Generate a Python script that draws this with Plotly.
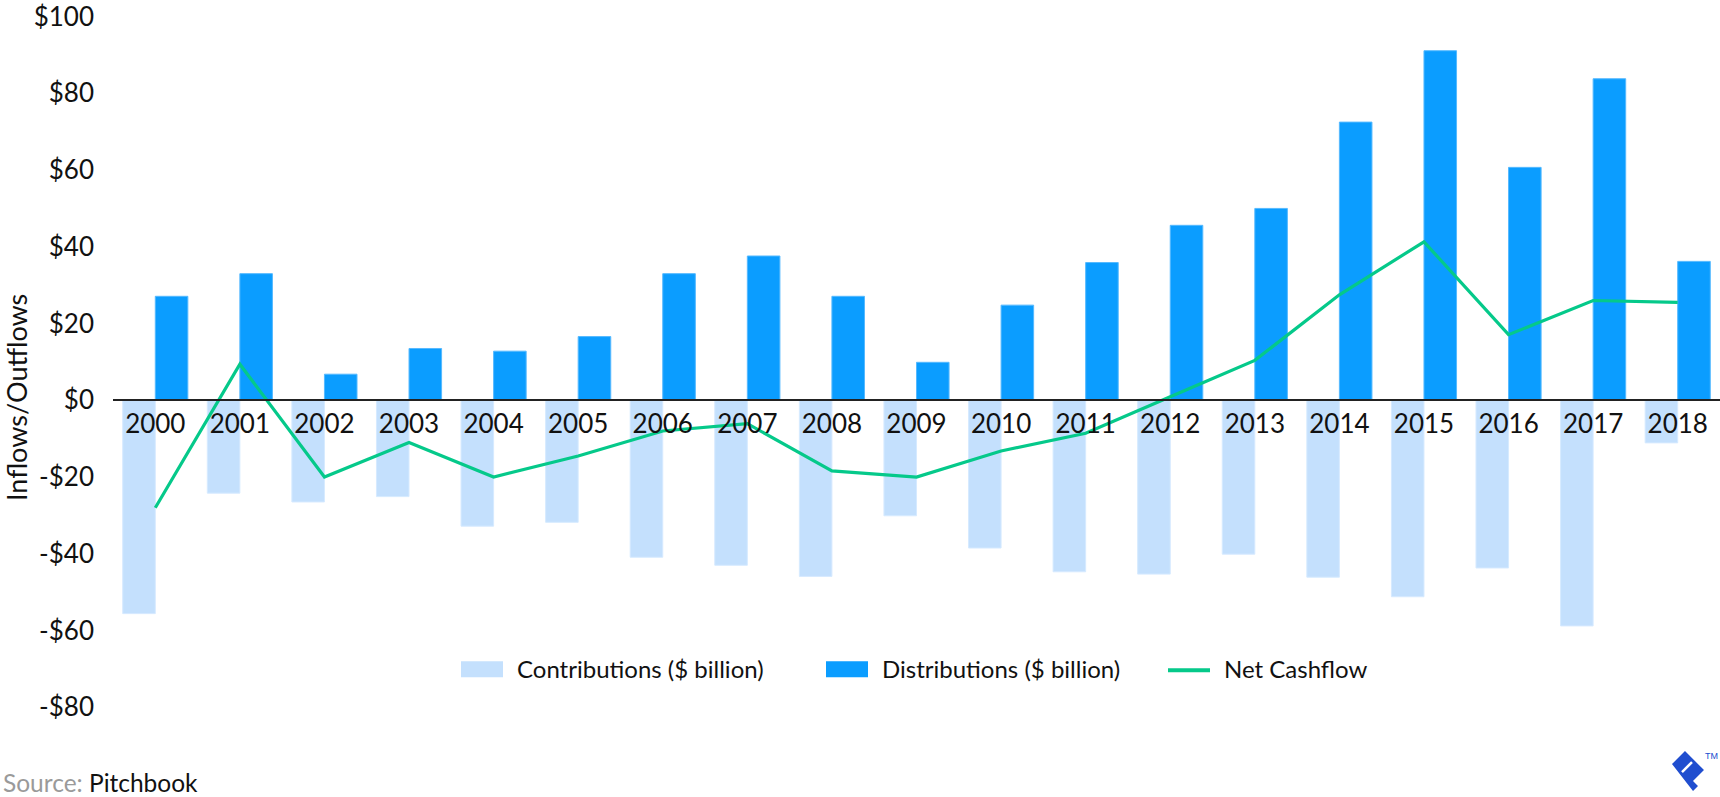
import plotly.graph_objects as go

# ---------------- data ----------------
years = ["2000", "2001", "2002", "2003", "2004", "2005", "2006", "2007", "2008", "2009",
         "2010", "2011", "2012", "2013", "2014", "2015", "2016", "2017", "2018"]
contributions = [-55.6, -24.2, -26.5, -25.1, -32.8, -31.8, -40.9, -43.0, -45.9, -30.1,
                 -38.5, -44.7, -45.3, -40.1, -46.1, -51.2, -43.7, -58.8, -11.1]
distributions = [27.1, 33.0, 6.8, 13.5, 12.8, 16.6, 33.0, 37.6, 27.1, 9.9,
                 24.8, 35.9, 45.6, 50.0, 72.5, 91.1, 60.7, 83.8, 36.2]
net_cashflow = [-28.0, 9.4, -20.0, -11.0, -20.0, -14.5, -8.0, -6.1, -18.4, -20.0,
                -13.2, -8.6, 0.9, 10.4, 27.5, 41.3, 17.1, 26.0, 25.5]
y_ticks = [-80, -60, -40, -20, 0, 20, 40, 60, 80, 100]
y_tick_text = [("-$" if v < 0 else "$") + str(abs(v)) for v in y_ticks]

series_names = ["Contributions ($ billion)", "Distributions ($ billion)", "Net Cashflow"]
C_CONTRIB = "#c4e0fd"
C_DISTRIB = "#0b9dff"
C_NET = "#05c98a"
FONT = "Lato"

# ---------------- layout geometry (pixels) ----------------
W, H = 1720, 797
ML, MR, MT, MB = 113, 0, 14, 13
PW = W - ML - MR
PH = H - MT - MB


def fx(p):
    return (p - ML) / PW


def fy(p):
    return (H - MB - p) / PH


fig = go.Figure()
fig.add_trace(go.Bar(x=years, y=contributions, name=series_names[0],
                     marker=dict(color=C_CONTRIB, line=dict(color="#d6eaff", width=1)),
                     showlegend=False))
fig.add_trace(go.Bar(x=years, y=distributions, name=series_names[1],
                     marker=dict(color=C_DISTRIB, line=dict(color="#55b9ff", width=1)),
                     showlegend=False))
fig.add_trace(go.Scatter(x=years, y=net_cashflow, name=series_names[2], mode="lines",
                         line=dict(color=C_NET, width=3.2), showlegend=False))

shapes = []
annotations = []

# custom legend
legend_left = [461, 826, 1168]
legend_kind = ["rect", "rect", "line"]
legend_color = [C_CONTRIB, C_DISTRIB, C_NET]
ly = 669
for name, left, kind, col in zip(series_names, legend_left, legend_kind, legend_color):
    if kind == "rect":
        shapes.append(dict(type="rect", xref="paper", yref="paper",
                           x0=fx(left), x1=fx(left + 42), y0=fy(ly + 8), y1=fy(ly - 8),
                           fillcolor=col, line=dict(width=0)))
    else:
        shapes.append(dict(type="line", xref="paper", yref="paper",
                           x0=fx(left), x1=fx(left + 42), y0=fy(ly + 1), y1=fy(ly + 1),
                           line=dict(color=col, width=4)))
    annotations.append(dict(text=name, xref="paper", yref="paper",
                            x=fx(left + 54), y=fy(ly - 1), xanchor="left", yanchor="middle",
                            showarrow=False, font=dict(family=FONT, size=24, color="#111")))

# y-axis title
annotations.append(dict(text="Inflows/Outflows", xref="paper", yref="paper",
                        x=fx(16), y=fy(397), xanchor="center", yanchor="middle",
                        textangle=-90, showarrow=False,
                        font=dict(family=FONT, size=27, color="#111")))
# source
annotations.append(dict(text="<span style='color:#9a9a9a'>Source:</span> Pitchbook",
                        xref="paper", yref="paper", x=fx(1), y=fy(782),
                        xanchor="left", yanchor="middle", showarrow=False,
                        font=dict(family=FONT, size=24.5, color="#111")))
# logo (decoration)
logo_pts = [(1685, 751), (1704, 770), (1693, 781), (1698, 786), (1693, 791), (1672, 764)]
path = "M " + " L ".join(f"{fx(a):.5f},{fy(b):.5f}" for a, b in logo_pts) + " Z"
shapes.append(dict(type="path", xref="paper", yref="paper", path=path,
                   fillcolor="#204ecf", line=dict(width=0)))
shapes.append(dict(type="line", xref="paper", yref="paper",
                   x0=fx(1682), y0=fy(772), x1=fx(1692), y1=fy(762),
                   line=dict(color="white", width=2.5)))
annotations.append(dict(text="TM", xref="paper", yref="paper", x=fx(1711), y=fy(756),
                        xanchor="center", yanchor="middle", showarrow=False,
                        font=dict(family="Liberation Sans", size=9, color="#204ecf")))

fig.update_layout(
    width=W, height=H,
    margin=dict(l=ML, r=MR, t=MT, b=MB, pad=0),
    paper_bgcolor="white", plot_bgcolor="white",
    barmode="group", bargap=0.23, bargroupgap=0,
    font=dict(family=FONT, size=26, color="#111"),
    shapes=shapes, annotations=annotations,
    showlegend=False,
    xaxis=dict(type="category", anchor="free", position=0.5,
               showline=True, linecolor="#222", linewidth=2,
               ticks="", showgrid=False, zeroline=False,
               tickfont=dict(family=FONT, size=26, color="#111"),
               ticklabelstandoff=1, fixedrange=True),
    yaxis=dict(range=[-100, 100.15], tickvals=y_ticks, ticktext=y_tick_text,
               showgrid=False, zeroline=False, showline=False, ticks="",
               tickfont=dict(family=FONT, size=26, color="#111"),
               ticklabelstandoff=18, ticklabeloverflow="allow", fixedrange=True),
)

fig.write_html("out.html", post_script="document.body.style.margin='0';")
